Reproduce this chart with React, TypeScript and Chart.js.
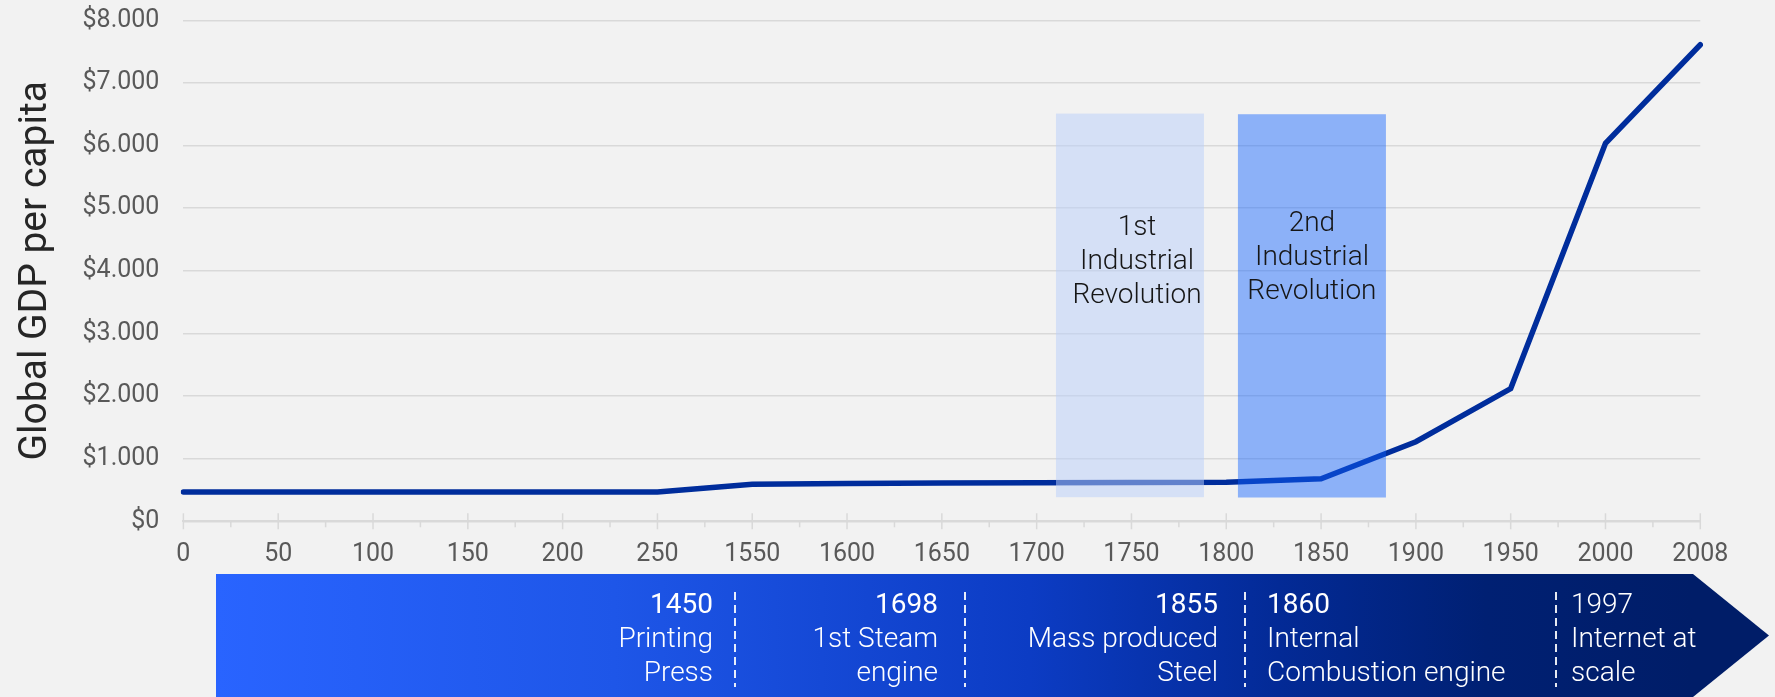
import React, { useEffect, useRef } from 'react';
import { Chart, registerables } from 'chart.js';

Chart.register(...registerables);

// ---- data ----
const xLabels = ['0', '50', '100', '150', '200', '250', '1550', '1600', '1650', '1700', '1750', '1800', '1850', '1900', '1950', '2000', '2008'];
const gdpPerCapita = [467, 467, 467, 467, 467, 467, 590, 605, 610, 615, 620, 622, 680, 1270, 2120, 6035, 7610];
const yTickValues = [0, 1000, 2000, 3000, 4000, 5000, 6000, 7000, 8000];
const revolutionLabels = [
  ['1st', 'Industrial', 'Revolution'],
  ['2nd', 'Industrial', 'Revolution'],
];
const eventYears = ['1450', '1698', '1855', '1860', '1997'];
const eventNames = [
  ['Printing', 'Press'],
  ['1st Steam', 'engine'],
  ['Mass produced', 'Steel'],
  ['Internal', 'Combustion engine'],
  ['Internet at', 'scale'],
];

const W = 1775;
const H = 697;
const FONT = 'Roboto, "Noto Sans", sans-serif';

function fmtDollar(v: number): string {
  if (v === 0) return '$0';
  return '$' + Math.round(v / 1000) + '.000';
}

export default function App() {
  const ref = useRef<HTMLCanvasElement>(null);

  useEffect(() => {
    const canvas = ref.current;
    if (!canvas) return;

    const revBoxes = [
      { x0: 9.204, x1: 10.765, yLo: 385, yHi: 6510, fill: 'rgba(186,207,250,0.52)', dx: 7, firstBase: 121 },
      { x0: 11.123, x1: 12.684, yLo: 380, yHi: 6500, fill: 'rgba(15,98,254,0.45)', dx: 0, firstBase: 117 },
    ];

    const eventLayout = [
      { x: 713, align: 'right', weight: 400 },
      { x: 938, align: 'right', weight: 400 },
      { x: 1218, align: 'right', weight: 400 },
      { x: 1267, align: 'left', weight: 400 },
      { x: 1571, align: 'left', weight: 300 },
    ];
    const dashXs = [735, 965, 1245, 1556];

    const overlay = {
      id: 'overlay',
      beforeDatasetsDraw(chart: any) {
        const ctx = chart.ctx;
        const xs = chart.scales.x;
        const base = chart.chartArea.bottom;
        ctx.save();
        ctx.strokeStyle = '#d9d9d9';
        ctx.lineWidth = 1.5;
        for (let i = 0; i < xLabels.length; i++) {
          const px = xs.getPixelForValue(i);
          ctx.beginPath();
          ctx.moveTo(px, base - 8);
          ctx.lineTo(px, base + 8);
          ctx.stroke();
          if (i < xLabels.length - 1) {
            const mx = xs.getPixelForValue(i + 0.5);
            ctx.beginPath();
            ctx.moveTo(mx, base);
            ctx.lineTo(mx, base + 6);
            ctx.stroke();
          }
        }
        ctx.restore();
      },
      afterDatasetsDraw(chart: any) {
        const ctx = chart.ctx;
        const xs = chart.scales.x;
        const ys = chart.scales.y;
        ctx.save();
        revBoxes.forEach((b, i) => {
          const l = xs.getPixelForValue(b.x0);
          const r = xs.getPixelForValue(b.x1);
          const t = ys.getPixelForValue(b.yHi);
          const bt = ys.getPixelForValue(b.yLo);
          ctx.fillStyle = b.fill;
          ctx.fillRect(l, t, r - l, bt - t);
          ctx.fillStyle = '#161616';
          ctx.font = `300 28px ${FONT}`;
          ctx.textAlign = 'center';
          ctx.textBaseline = 'alphabetic';
          revolutionLabels[i].forEach((line, k) => {
            ctx.fillText(line, (l + r) / 2 + b.dx, t + b.firstBase + k * 34);
          });
        });
        ctx.restore();
      },
      afterDraw(chart: any) {
        const ctx = chart.ctx;
        ctx.save();
        const L = 216, T = 574, R = 1693, TIP = 1769, B = 697;
        const MID = (T + B) / 2;
        const g = ctx.createLinearGradient(L, 0, R, 0);
        g.addColorStop(0, 'rgb(41,100,255)');
        g.addColorStop(0.27, 'rgb(30,86,232)');
        g.addColorStop(0.55, 'rgb(12,60,196)');
        g.addColorStop(0.72, 'rgb(3,42,150)');
        g.addColorStop(0.86, 'rgb(0,32,115)');
        g.addColorStop(1, 'rgb(0,29,104)');
        ctx.fillStyle = g;
        ctx.beginPath();
        ctx.moveTo(L, T);
        ctx.lineTo(R, T);
        ctx.lineTo(TIP, MID);
        ctx.lineTo(R, B);
        ctx.lineTo(L, B);
        ctx.closePath();
        ctx.fill();

        ctx.strokeStyle = 'rgba(255,255,255,0.9)';
        ctx.lineWidth = 2;
        ctx.setLineDash([8, 5]);
        dashXs.forEach((x) => {
          ctx.beginPath();
          ctx.moveTo(x, 592);
          ctx.lineTo(x, 687);
          ctx.stroke();
        });
        ctx.setLineDash([]);

        ctx.fillStyle = '#ffffff';
        ctx.textBaseline = 'alphabetic';
        eventYears.forEach((yr, i) => {
          const p = eventLayout[i];
          ctx.textAlign = p.align;
          ctx.font = `${p.weight} 28px ${FONT}`;
          ctx.fillText(yr, p.x, 613);
          ctx.font = `300 28px ${FONT}`;
          eventNames[i].forEach((line, k) => {
            ctx.fillText(line, p.x, 647 + k * 34);
          });
        });
        ctx.restore();
      },
    };

    const chart = new Chart(canvas, {
      type: 'line',
      data: {
        labels: xLabels,
        datasets: [
          {
            data: gdpPerCapita,
            borderColor: '#002d9c',
            backgroundColor: '#002d9c',
            borderWidth: 5.5,
            pointRadius: 0,
            borderCapStyle: 'round',
            tension: 0,
            fill: false,
          },
        ],
      },
      options: {
        animation: false,
        responsive: false,
        devicePixelRatio: 1,
        layout: { padding: { top: 20.3, right: 74.7, left: 0, bottom: 0 } },
        plugins: {
          legend: { display: false },
          tooltip: { enabled: false },
        },
        scales: {
          x: {
            type: 'category',
            offset: false,
            grid: { display: false, drawTicks: false },
            border: { display: true, color: '#d9d9d9', width: 2 },
            ticks: {
              color: '#595959',
              font: { family: FONT, size: 25 },
              padding: 18,
              autoSkip: false,
              maxRotation: 0,
            },
            afterFit: (s: any) => {
              s.height = H - 521.3;
            },
          },
          y: {
            min: 0,
            max: 8000,
            afterBuildTicks: (s: any) => {
              s.ticks = yTickValues.map((v) => ({ value: v }));
            },
            ticks: {
              callback: (v: any) => fmtDollar(Number(v)),
              color: '#595959',
              font: { family: FONT, size: 25 },
              padding: 24,
            },
            grid: { color: '#d9d9d9', lineWidth: 1.5, drawTicks: false },
            border: { display: false },
            title: {
              display: true,
              text: 'Global GDP per capita',
              color: '#262626',
              font: { family: FONT, size: 39 },
              padding: { top: 13, bottom: 0 },
            },
            afterFit: (s: any) => {
              s.width = 183.4;
              s.paddingTop = 10;
              s.paddingBottom = 10;
            },
          },
        },
      },
      plugins: [overlay],
    } as any);

    return () => chart.destroy();
  }, []);

  return (
    <div style={{ position: 'absolute', left: 0, top: 0, width: W, height: H, background: '#f2f2f2', overflow: 'hidden' }}>
      <canvas ref={ref} width={W} height={H} style={{ display: 'block', width: W, height: H }} />
    </div>
  );
}
